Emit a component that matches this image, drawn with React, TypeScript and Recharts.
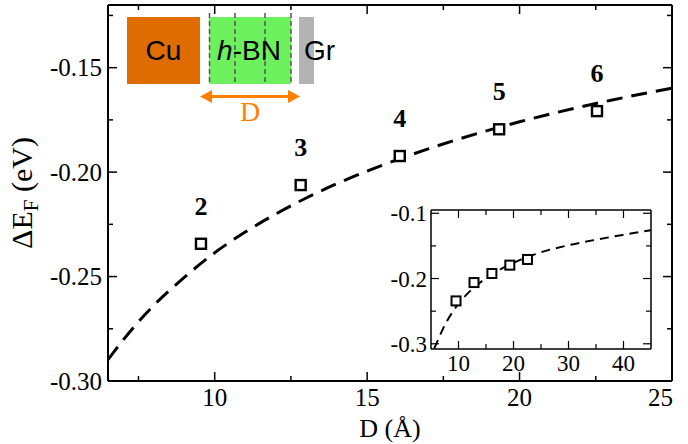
import React from 'react';
import { ComposedChart, Line, Scatter, XAxis, YAxis, CartesianGrid } from 'recharts';

// ---- data ----
const pointD = [9.55, 12.82, 16.07, 19.33, 22.54];
const pointE = [-0.2343, -0.2062, -0.1923, -0.1795, -0.1708];
const pointLabels = ['2', '3', '4', '5', '6'];

const fitD = [5.6, 6.5, 7, 7.5, 8, 9, 10, 11, 12, 13, 14, 15, 16, 17, 18, 19, 20, 21, 22, 23, 24, 25, 30, 35, 40, 45];
const fitE = [-0.307, -0.2898, -0.2803, -0.2716, -0.2638, -0.2504, -0.2386, -0.2287, -0.2201, -0.2124, -0.2056, -0.1995, -0.194, -0.1889, -0.1842, -0.1799, -0.1759, -0.1722, -0.1688, -0.1656, -0.1626, -0.1598, -0.149, -0.1405, -0.133, -0.126];

const mainXTicks = [7.5, 10, 12.5, 15, 17.5, 20, 22.5, 25];
const mainXMajor = [10, 15, 20, 25];
const mainYTicks = [-0.3, -0.275, -0.25, -0.225, -0.2, -0.175, -0.15, -0.125];
const mainYMajor = [-0.3, -0.25, -0.2, -0.15];

const insetXTicks = [10, 15, 20, 25, 30, 35, 40];
const insetXMajor = [10, 20, 30, 40];
const insetYTicks = [-0.3, -0.25, -0.2, -0.15, -0.1];
const insetYMajor = [-0.3, -0.2, -0.1];

const points = pointD.map((d, i) => ({ d, e: pointE[i], label: pointLabels[i] }));
const fit = fitD.map((d, i) => ({ d, e: fitE[i] }));
const fitMain = fit.filter((p) => p.d >= 6.5 && p.d <= 25);

const SERIF = '"Liberation Serif", "Times New Roman", serif';
const SANS = '"Liberation Sans", Arial, sans-serif';

type TickOpts = {
  side: 'bottom' | 'top' | 'left' | 'right';
  majors: number[];
  major: number;
  minor: number;
  sw: number;
  fontSize?: number;
  fmt?: (v: number) => string;
  gap?: number;
  lastEnd?: number;
};

const makeTick = (o: TickOpts) => (props: any) => {
  const { x, y, payload } = props;
  const v = payload.value;
  const isMajor = o.majors.some((m) => Math.abs(m - v) < 1e-9);
  const len = isMajor ? o.major : o.minor;
  let line: any = null;
  if (o.side === 'bottom') line = <line x1={x} y1={y} x2={x} y2={y - len} />;
  if (o.side === 'top') line = <line x1={x} y1={y} x2={x} y2={y + len} />;
  if (o.side === 'left') line = <line x1={x} y1={y} x2={x + len} y2={y} />;
  if (o.side === 'right') line = <line x1={x} y1={y} x2={x - len} y2={y} />;
  let text: any = null;
  if (isMajor && o.fmt) {
    if (o.side === 'bottom') {
      const isLast = o.lastEnd !== undefined && Math.abs(v - o.lastEnd) < 1e-9;
      text = (
        <text x={isLast ? x + 1 : x} y={y + (o.gap || 0)} textAnchor={isLast ? 'end' : 'middle'}
          fontSize={o.fontSize} fontFamily={SERIF} fill="#000">{o.fmt(v)}</text>
      );
    } else if (o.side === 'left') {
      text = (
        <text x={x - (o.gap || 0)} y={y} dy="0.35em" textAnchor="end"
          fontSize={o.fontSize} fontFamily={SERIF} fill="#000">{o.fmt(v)}</text>
      );
    }
  }
  return (
    <g>
      <g stroke="#000" strokeWidth={o.sw}>{line}</g>
      {text}
    </g>
  );
};

const MainSquare = (props: any) => {
  const { cx, cy, payload } = props;
  return (
    <g>
      <rect x={cx - 5} y={cy - 5} width={10} height={10} fill="#fff" stroke="#000" strokeWidth={2.4} />
      <text x={cx} y={cy - 38} dy="0.35em" textAnchor="middle" fontSize={26} fontWeight="bold" fontFamily={SERIF} fill="#000">
        {payload.label}
      </text>
    </g>
  );
};

const InsetSquare = (props: any) => {
  const { cx, cy } = props;
  return <rect x={cx - 4.5} y={cy - 4.5} width={9} height={9} fill="#fff" stroke="#000" strokeWidth={2} />;
};

const YLabel = (props: any) => {
  const vb = props.viewBox;
  const cx = vb.x + 32;
  const cy = vb.y + vb.height / 2;
  return (
    <text x={cx} y={cy} transform={`rotate(-90, ${cx}, ${cy})`} textAnchor="middle" fontSize={30} fontFamily={SERIF} fill="#000">
      ΔE<tspan fontSize={21} dy={6}>F</tspan><tspan dy={-6}> (eV)</tspan>
    </text>
  );
};

const XLabel = (props: any) => {
  const vb = props.viewBox;
  return (
    <text x={vb.x + vb.width / 2} y={437} textAnchor="middle" fontSize={26} fontFamily={SERIF} fill="#000">
      D (Å)
    </text>
  );
};

const Schematic = () => (
  <svg width={688} height={444} style={{ position: 'absolute', left: 0, top: 0, pointerEvents: 'none' }}>
    <rect x={127} y={17} width={73} height={67} fill="#df6c00" />
    <text x={163.5} y={60} textAnchor="middle" fontSize={28} fontFamily={SANS} fill="#000">Cu</text>
    <rect x={209} y={17} width={82} height={67} fill="#6cf05c" />
    <g stroke="#555" strokeWidth={1.5} strokeDasharray="5 3">
      <line x1={209.5} y1={13} x2={209.5} y2={85} />
      <line x1={235} y1={13} x2={235} y2={85} />
      <line x1={265} y1={13} x2={265} y2={85} />
      <line x1={291} y1={13} x2={291} y2={85} />
    </g>
    <text x={249} y={60} textAnchor="middle" fontSize={28} fontFamily={SANS} fill="#000">
      <tspan fontStyle="italic">h</tspan>-BN
    </text>
    <rect x={299} y={17} width={15} height={67} fill="#b3b3b3" />
    <text x={304} y={60} fontSize={28} fontFamily={SANS} fill="#000">Gr</text>
    <line x1={206} y1={96.5} x2={294} y2={96.5} stroke="#ff7f00" strokeWidth={3} />
    <polygon points="200,96.5 212,90 212,103" fill="#ff7f00" />
    <polygon points="300,96.5 288,90 288,103" fill="#ff7f00" />
    <text x={250} y={121} textAnchor="middle" fontSize={28} fontFamily={SERIF} fill="#ff7f00">D</text>
  </svg>
);

export default function App() {
  const axisMain = { stroke: '#000', strokeWidth: 2 };
  const axisInset = { stroke: '#000', strokeWidth: 1.5 };
  return (
    <div style={{ position: 'absolute', left: 0, top: 0, width: 688, height: 444, background: '#fff', overflow: 'hidden' }}>
      <ComposedChart width={688} height={444} margin={{ top: 4, right: 15, left: 0, bottom: 0 }}>
        <XAxis xAxisId="b" dataKey="d" type="number" domain={[6.5, 25]} allowDataOverflow ticks={mainXTicks} interval={0}
          orientation="bottom" height={63} tickSize={0} tickMargin={0} tickLine={false} axisLine={axisMain}
          tick={makeTick({ side: 'bottom', majors: mainXMajor, major: 9, minor: 5, sw: 1.5, fontSize: 25, gap: 25, fmt: (v) => String(v), lastEnd: 25 })}
          label={<XLabel />} />
        <XAxis xAxisId="t" dataKey="d" type="number" domain={[6.5, 25]} allowDataOverflow ticks={mainXTicks} interval={0}
          orientation="top" height={1} tickSize={0} tickMargin={0} tickLine={false} axisLine={axisMain}
          tick={makeTick({ side: 'top', majors: mainXMajor, major: 9, minor: 5, sw: 1.5 })} />
        <YAxis yAxisId="l" type="number" domain={[-0.3, -0.12]} allowDataOverflow ticks={mainYTicks} interval={0}
          orientation="left" width={108} tickSize={0} tickMargin={0} tickLine={false} axisLine={axisMain}
          tick={makeTick({ side: 'left', majors: mainYMajor, major: 9, minor: 5, sw: 1.5, fontSize: 25, gap: 6, fmt: (v) => v.toFixed(2) })}
          label={<YLabel />} />
        <YAxis yAxisId="r" type="number" domain={[-0.3, -0.12]} allowDataOverflow ticks={mainYTicks} interval={0}
          orientation="right" width={1} tickSize={0} tickMargin={0} tickLine={false} axisLine={axisMain}
          tick={makeTick({ side: 'right', majors: mainYMajor, major: 9, minor: 5, sw: 1.5 })} />
        <Line xAxisId="t" yAxisId="r" data={fitMain} dataKey="e" type="monotone" stroke="none" strokeWidth={0}
          dot={false} activeDot={false} isAnimationActive={false} />
        <Line xAxisId="b" yAxisId="l" data={fitMain} dataKey="e" type="monotone" stroke="#000" strokeWidth={3}
          strokeDasharray="16 9" dot={false} activeDot={false} isAnimationActive={false} />
        <Scatter xAxisId="b" yAxisId="l" data={points} dataKey="e" shape={<MainSquare />} isAnimationActive={false} />
      </ComposedChart>
      <Schematic />
      <div style={{ position: 'absolute', left: 381, top: 200 }}>
        <ComposedChart width={280} height={190} margin={{ top: 9, right: 9, left: 0, bottom: 0 }}>
          <CartesianGrid xAxisId="b" yAxisId="l" horizontal={false} vertical={false} fill="#fff" />
          <XAxis xAxisId="b" dataKey="d" type="number" domain={[5, 45]} allowDataOverflow ticks={insetXTicks} interval={0}
            orientation="bottom" height={41} tickSize={0} tickMargin={0} tickLine={false} axisLine={axisInset}
            tick={makeTick({ side: 'bottom', majors: insetXMajor, major: 8, minor: 5, sw: 1.2, fontSize: 23, gap: 22, fmt: (v) => String(v) })} />
          <XAxis xAxisId="t" dataKey="d" type="number" domain={[5, 45]} allowDataOverflow ticks={insetXTicks} interval={0}
            orientation="top" height={1} tickSize={0} tickMargin={0} tickLine={false} axisLine={axisInset}
            tick={makeTick({ side: 'top', majors: insetXMajor, major: 8, minor: 5, sw: 1.2 })} />
          <YAxis yAxisId="l" type="number" domain={[-0.308, -0.095]} allowDataOverflow ticks={insetYTicks} interval={0}
            orientation="left" width={50} tickSize={0} tickMargin={0} tickLine={false} axisLine={axisInset}
            tick={makeTick({ side: 'left', majors: insetYMajor, major: 8, minor: 5, sw: 1.2, fontSize: 23, gap: 4, fmt: (v) => v.toFixed(1) })} />
          <YAxis yAxisId="r" type="number" domain={[-0.308, -0.095]} allowDataOverflow ticks={insetYTicks} interval={0}
            orientation="right" width={1} tickSize={0} tickMargin={0} tickLine={false} axisLine={axisInset}
            tick={makeTick({ side: 'right', majors: insetYMajor, major: 8, minor: 5, sw: 1.2 })} />
          <Line xAxisId="t" yAxisId="r" data={fit} dataKey="e" type="monotone" stroke="none" strokeWidth={0}
            dot={false} activeDot={false} isAnimationActive={false} />
          <Line xAxisId="b" yAxisId="l" data={fit} dataKey="e" type="monotone" stroke="#000" strokeWidth={2}
            strokeDasharray="9 6" dot={false} activeDot={false} isAnimationActive={false} />
          <Scatter xAxisId="b" yAxisId="l" data={points} dataKey="e" shape={<InsetSquare />} isAnimationActive={false} />
        </ComposedChart>
      </div>
    </div>
  );
}
